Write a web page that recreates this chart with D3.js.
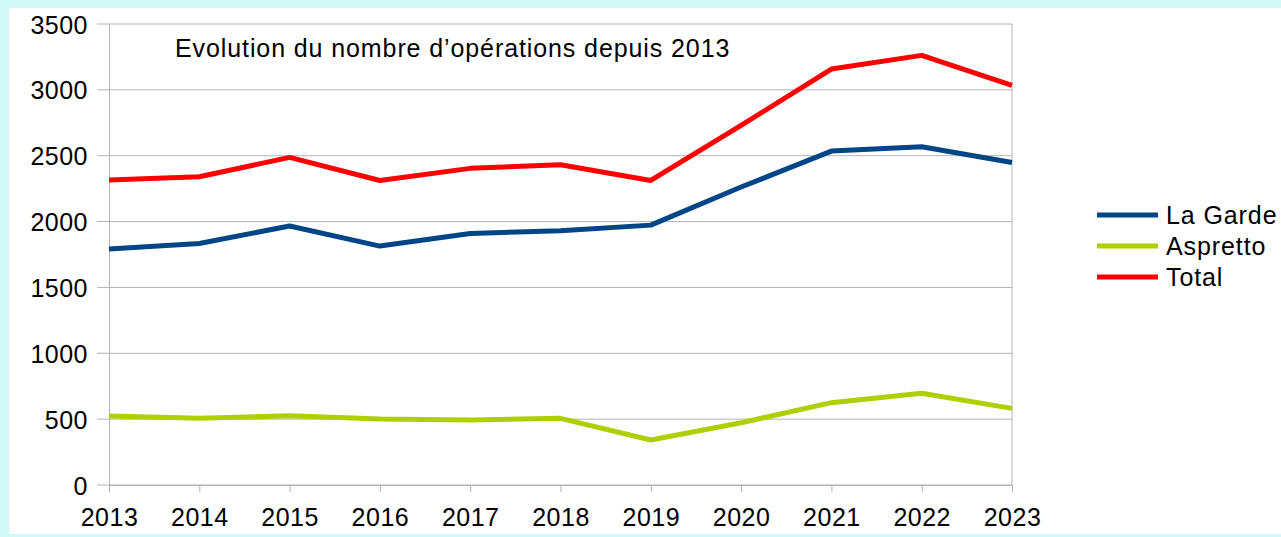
<!DOCTYPE html>
<html>
<head>
<meta charset="utf-8">
<script src="https://cdn.jsdelivr.net/npm/d3@7"></script>
<style>
  body { margin: 0; background: #d2f8f5; }
  svg { display: block; font-family: "Liberation Sans", Arial, sans-serif; }
</style>
</head>
<body>
<svg id="chart" width="1281" height="537"></svg>
<script>
// data
const years = ["2013", "2014", "2015", "2016", "2017", "2018", "2019", "2020", "2021", "2022", "2023"];
const laGarde = [1791, 1834, 1966, 1814, 1910, 1930, 1973, 2262, 2535, 2568, 2449];
const aspretto = [524, 506, 526, 501, 493, 506, 342, 473, 625, 696, 582];
const total = [2315, 2340, 2487, 2312, 2404, 2432, 2312, 2730, 3158, 3262, 3034];
const yTicks = [0, 500, 1000, 1500, 2000, 2500, 3000, 3500];
const title = "Evolution du nombre d’opérations depuis 2013";

const series = [
  { name: "La Garde", values: laGarde, color: "#004586" },
  { name: "Aspretto", values: aspretto, color: "#aecf00" },
  { name: "Total", values: total, color: "#ff0000" }
];

const svg = d3.select("#chart");
const margin = { top: 24, left: 109, right: 269, bottom: 52 };
const width = 1281 - margin.left - margin.right;
const height = 537 - margin.top - margin.bottom;

// white panel over the cyan page
svg.append("rect")
  .attr("x", 9).attr("y", 8)
  .attr("width", 1272).attr("height", 526)
  .attr("fill", "#ffffff");

const g = svg.append("g").attr("transform", `translate(${margin.left},${margin.top})`);

const x = d3.scalePoint().domain(years).range([0, width]);
const y = d3.scaleLinear().domain([0, 3500]).range([height, 0]);

// grid
g.append("g")
  .selectAll("line")
  .data(yTicks)
  .join("line")
  .attr("x1", -12).attr("x2", width)
  .attr("y1", d => y(d)).attr("y2", d => y(d))
  .attr("stroke", "#b3b3b3").attr("stroke-width", 1);

// axes
const yAxis = d3.axisLeft(y).tickValues(yTicks).tickFormat(d3.format("d")).tickSize(0).tickPadding(21);
g.append("g").attr("class", "y-axis").call(yAxis)
  .call(s => s.select(".domain").attr("stroke", "#b3b3b3"))
  .selectAll("text").attr("font-size", 25).attr("fill", "#000").attr("dy", "0.36em")
  .attr("letter-spacing", 0.5);

const xAxis = d3.axisBottom(x).tickSize(7).tickPadding(16);
g.append("g").attr("class", "x-axis")
  .attr("transform", `translate(0,${height})`)
  .call(xAxis)
  .call(s => s.select(".domain").attr("stroke", "#b3b3b3"))
  .call(s => s.selectAll(".tick line").attr("stroke", "#b3b3b3"))
  .selectAll("text").attr("font-size", 25).attr("fill", "#000")
  .attr("letter-spacing", 0.5);

// right border of the plot
g.append("line")
  .attr("x1", width).attr("x2", width)
  .attr("y1", 0).attr("y2", height)
  .attr("stroke", "#b3b3b3");

// lines
const line = d3.line()
  .x((d, i) => x(years[i]))
  .y(d => y(d));

g.selectAll(".series")
  .data(series)
  .join("path")
  .attr("class", "series")
  .attr("d", d => line(d.values))
  .attr("fill", "none")
  .attr("stroke", d => d.color)
  .attr("stroke-width", 5)
  .attr("stroke-linejoin", "round");

// title
g.append("text")
  .attr("x", 66).attr("y", 33)
  .attr("font-size", 25)
  .attr("letter-spacing", 0.9)
  .attr("fill", "#000")
  .text(title);

// legend
const legend = svg.append("g").attr("transform", "translate(1097,215)");
const row = legend.selectAll("g")
  .data(series)
  .join("g")
  .attr("transform", (d, i) => `translate(0,${i * 31})`);
row.append("line")
  .attr("x1", 0).attr("x2", 61)
  .attr("stroke", d => d.color)
  .attr("stroke-width", 5);
row.append("text")
  .attr("x", 69).attr("dy", "0.36em")
  .attr("font-size", 25)
  .attr("letter-spacing", 0.9)
  .attr("fill", "#000")
  .text(d => d.name);
</script>
</body>
</html>
